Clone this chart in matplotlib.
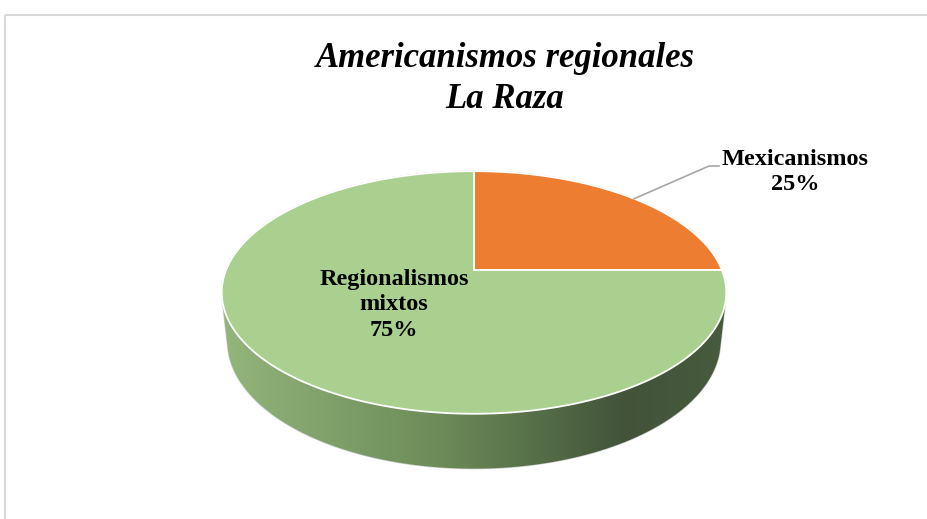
import numpy as np
import matplotlib.pyplot as plt
from matplotlib.patches import Polygon, Rectangle
from matplotlib.colors import LinearSegmentedColormap

labels = ["Mexicanismos", "Regionalismos\nmixtos"]
values = [25, 75]
colors = ["#ED7D31", "#A9D08E"]
title = "Americanismos regionales\nLa Raza"

plt.rcParams['font.family'] = ['Liberation Serif', 'DejaVu Serif']

fig = plt.figure(figsize=(9.28, 5.19), dpi=100)
ax = fig.add_axes([0, 0, 1, 1])
ax.set_xlim(0, 928)
ax.set_ylim(519, 0)
ax.axis("off")

# chart frame (runs off the right and bottom edges)
ax.add_patch(Rectangle((5.5, 14.5), 940, 520, fill=False, ec="#D9D9D9", lw=1.5))

# perspective camera for the 3-D disc
cx, cy = 474, 270
theta = np.radians(28.2)
s, c = np.sin(theta), np.cos(theta)
D, f = 4.76, 1180.0
depth_h = 0.225


def project(X, Z, Y=0.0):
    d = D + Z * c - Y * s
    return np.column_stack([cx + f * X / d, cy - f * (Z * s + Y * c) / d])


def hull(pts):
    pts = sorted(map(tuple, pts))
    def half(seq):
        out = []
        for p in seq:
            while len(out) >= 2 and ((out[-1][0] - out[-2][0]) * (p[1] - out[-2][1])
                                     - (out[-1][1] - out[-2][1]) * (p[0] - out[-2][0])) <= 0:
                out.pop()
            out.append(p)
        return out
    lo, hi = half(pts), half(pts[::-1])
    return np.array(lo[:-1] + hi[:-1])


phi = np.linspace(0, 2 * np.pi, 721)
top_rim = project(np.cos(phi), np.sin(phi), 0.0)
bot_rim = project(np.cos(phi), np.sin(phi), -depth_h)
outline = hull(np.vstack([top_rim, bot_rim]))

# side wall with horizontal shading
side = Polygon(outline, closed=True, fc="none", ec="#D0D0D0", lw=1.0, zorder=1)
ax.add_patch(side)
shade = LinearSegmentedColormap.from_list(
    "side", [(0, "#93B67B"), (0.45, "#6A8957"), (0.8, "#42533A"), (1.0, "#475B3D")])
x0, x1 = outline[:, 0].min(), outline[:, 0].max()
y0, y1 = outline[:, 1].min(), outline[:, 1].max()
img = ax.imshow(np.linspace(0, 1, 256)[None, :], cmap=shade, aspect="auto",
                extent=[x0, x1, y1, y0], zorder=1, interpolation="bilinear")
img.set_clip_path(side)

# top face slices, clockwise from 12 o'clock
start = np.pi / 2
fracs = np.array(values) / np.sum(values)
mids = []
for frac, col in zip(fracs, colors):
    end = start - frac * 2 * np.pi
    a = np.linspace(start, end, 400)
    arc = project(np.cos(a), np.sin(a))
    pts = np.vstack([project(np.array([0.0]), np.array([0.0])), arc])
    ax.add_patch(Polygon(pts, closed=True, fc=col, ec="white", lw=1.3, zorder=2))
    mids.append((start + end) / 2)
    start = end

# labels
lab_font = dict(fontsize=17.5, fontweight="bold", ha="center", va="center", zorder=4,
                linespacing=1.25)
ax.text(795, 172, f"{labels[0]}\n{values[0]}%", **lab_font)
edge = project(np.array([np.cos(mids[0] - 0.03)]), np.array([np.sin(mids[0] - 0.03)]))[0]
ax.plot([edge[0], 709, 719], [edge[1], 166, 166], color="#A6A6A6", lw=1.2, zorder=3)
ax.text(394, 305, f"{labels[1]}\n{values[1]}%", **lab_font)

ax.text(505, 79, title, fontsize=25, fontweight="bold", fontstyle="italic",
        ha="center", va="center", linespacing=1.3)

fig.savefig("out.png", dpi=100)
